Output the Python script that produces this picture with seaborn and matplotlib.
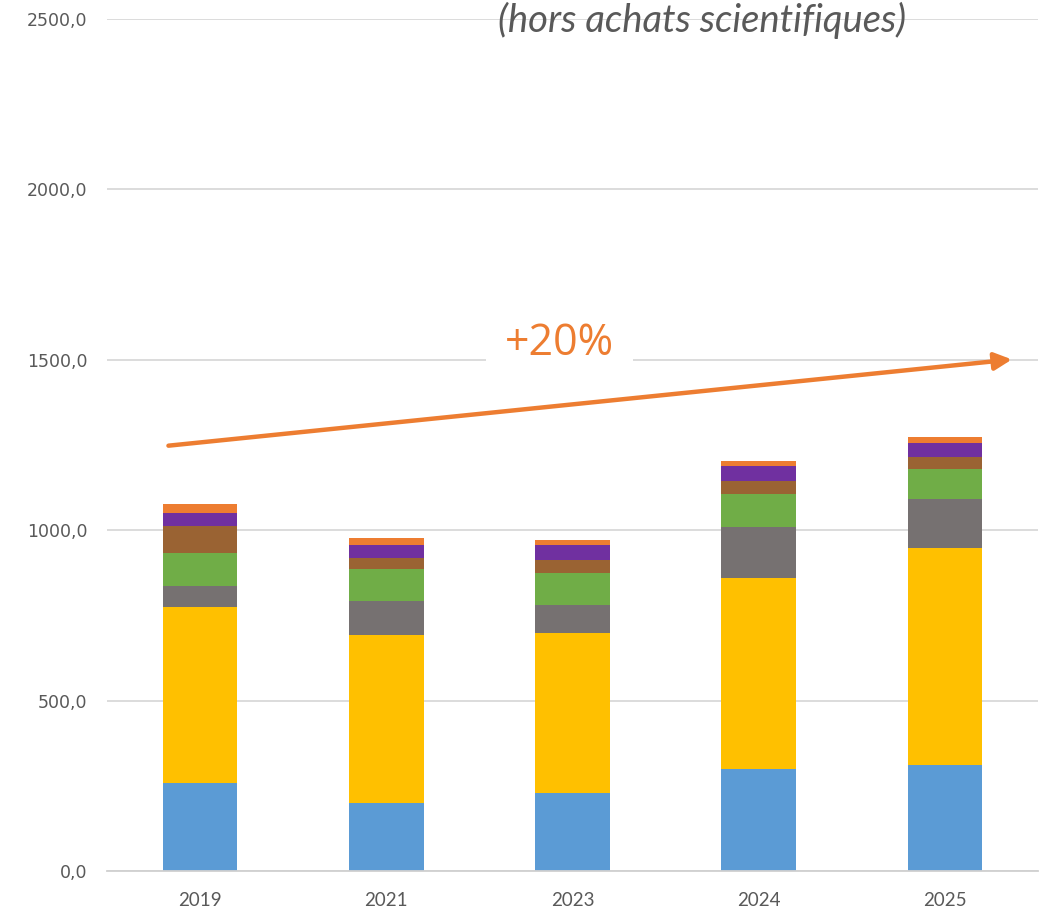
import numpy as np
import pandas as pd
import matplotlib
matplotlib.use("Agg")
import matplotlib.pyplot as plt
import seaborn as sns

# values (stack order bottom -> top)
years = ["2019", "2021", "2023", "2024", "2025"]
serie_bleue = [258, 200, 230, 300, 311]
serie_jaune = [516, 492, 468, 560, 636]
serie_grise = [62, 101, 82, 149, 144]
serie_verte = [96, 92, 95, 96, 90]
serie_marron = [81, 32, 39, 39, 34]
serie_violette = [38, 39, 42, 43, 41]
serie_orange = [25, 20, 15, 15, 18]

series = [serie_bleue, serie_jaune, serie_grise, serie_verte,
          serie_marron, serie_violette, serie_orange]
colors = ["#5B9BD5", "#FFC000", "#767171", "#70AD47",
          "#9A6333", "#7030A0", "#ED7D31"]

yticks = [0, 500, 1000, 1500, 2000, 2500]
title = "(hors achats scientifiques)"
trend_label = "+20%"

sns.set_style("white")
plt.rcParams["font.family"] = ["DejaVu Sans"]

fig = plt.figure(figsize=(10.51, 9.11), dpi=100)
ax = fig.add_axes([107 / 1051, 40 / 911, 931 / 1051, 852 / 911])

# stacked bars: draw cumulative totals from the top down so each layer covers the next
cum = np.cumsum(np.array(series), axis=0)
for i in range(len(series) - 1, -1, -1):
    df = pd.DataFrame({"annee": years, "valeur": cum[i]})
    sns.barplot(data=df, x="annee", y="valeur", order=years, color=colors[i],
                width=0.4, linewidth=0, saturation=1, ax=ax)

ax.set_xlim(-0.5, 4.5)
ax.set_ylim(0, 2500)
ax.set_yticks(yticks)
ax.set_yticklabels([f"{v:.1f}".replace(".", ",") for v in yticks])
ax.set_xlabel("")
ax.set_ylabel("")

ax.set_axisbelow(True)
ax.yaxis.grid(True, color="#D9D9D9", linewidth=1.3)
for s in ["top", "right", "left"]:
    ax.spines[s].set_visible(False)
ax.spines["bottom"].set_color("#D0D0D0")
ax.spines["bottom"].set_linewidth(1.3)
ax.tick_params(axis="both", length=0, colors="#595959")
ax.tick_params(axis="y", labelsize=12.5, pad=14)
ax.tick_params(axis="x", pad=15)
for lab in ax.get_xticklabels():
    lab.set_fontfamily(["Lato", "DejaVu Sans"])
    lab.set_fontsize(13.5)

# trend arrow and label
ax.annotate("", xy=(4.36, 1501), xytext=(-0.17, 1248),
            arrowprops=dict(arrowstyle="-|>", color="#ED7D31", lw=3.2,
                            mutation_scale=26, shrinkA=0, shrinkB=0))
ax.text(1.93, 1514, trend_label, ha="center", va="baseline", fontsize=31,
        color="#ED7D31", family=["Open Sans", "DejaVu Sans"],
        bbox=dict(boxstyle="square,pad=0.45", fc="white", ec="none"))

# title sits at the very top edge, as in the original
fig.text(702 / 1051, 1 - 2 / 911, title, ha="center", va="top",
         fontsize=27.5, style="italic", color="#595959",
         family=["Lato", "DejaVu Sans"])

fig.savefig("out.png", dpi=100)
